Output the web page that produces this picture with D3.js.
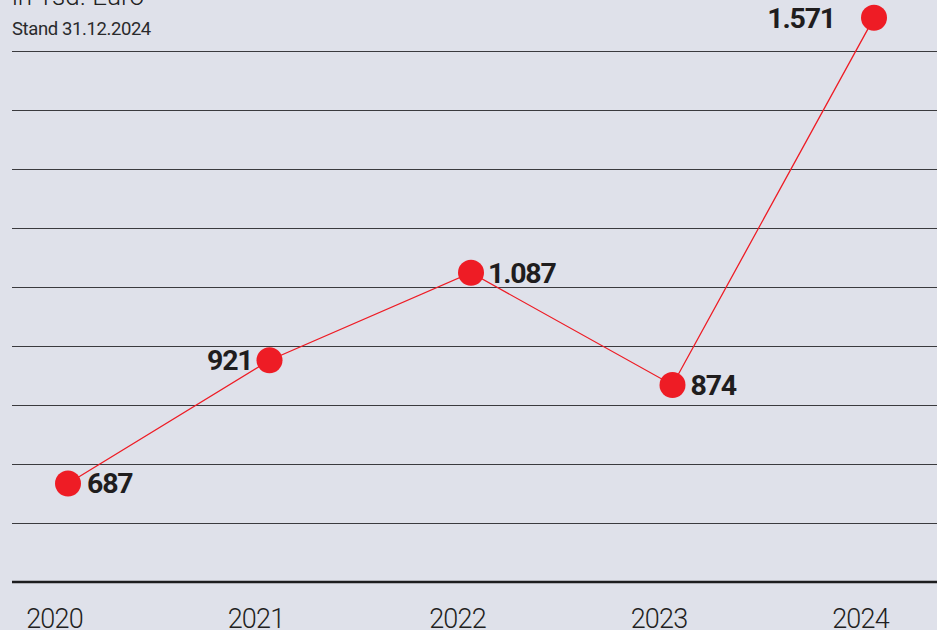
<!DOCTYPE html>
<html><head><meta charset="utf-8">
<script src="https://cdn.jsdelivr.net/npm/d3@7"></script>
<style>
html,body{margin:0;padding:0;background:#dfe1ea;}
svg{display:block;}
text{font-family:Roboto,"Open Sans",sans-serif;}
</style></head>
<body>
<svg id="c" width="937" height="630"></svg>
<script>
const years = ["2020","2021","2022","2023","2024"];
const values = [687, 921, 1087, 874, 1571];
const valueLabels = ["687","921","1.087","874","1.571"];
const unitLabel = "in Tsd. Euro";
const dateLabel = "Stand 31.12.2024";
const gridCount = 9;

// label placement per point (layout only): horizontal offset from the point
const labelDx = [19, -17, 17, 18, -39];

const W = 937, H = 630;
const svg = d3.select("#c");
svg.append("rect").attr("width",W).attr("height",H).attr("fill","#dfe1ea");

const x = d3.scalePoint().domain(years).range([68, 874]);
const y = d3.scaleLinear().domain([500, 1508]).range([582, 51]);

// gridlines
const [d0,d1] = y.domain();
const step = (d1-d0)/gridCount;
const gridVals = d3.range(1, gridCount+1).map(i => d0 + i*step);
svg.append("g").selectAll("line").data(gridVals).join("line")
  .attr("x1",12).attr("x2",W)
  .attr("y1",d=>Math.round(y(d))+0.5).attr("y2",d=>Math.round(y(d))+0.5)
  .attr("stroke","#3a3a3e").attr("stroke-width",1.1);

// baseline
svg.append("line").attr("x1",12).attr("x2",W)
  .attr("y1",y(d0)).attr("y2",y(d0))
  .attr("stroke","#1d1d1f").attr("stroke-width",2.6);

// header
svg.append("text").attr("x",12).attr("y",5).text(unitLabel)
  .attr("font-size",26).attr("font-weight",300).attr("fill","#222");
svg.append("text").attr("x",12).attr("y",35).text(dateLabel)
  .attr("font-size",18.5).attr("fill","#2a2a2c").attr("letter-spacing",-0.4);

// x labels
const xAxis = d3.axisBottom(x).tickSize(0).tickPadding(0);
const gx = svg.append("g").attr("transform",`translate(-14,${y(d0)})`).call(xAxis);
gx.select(".domain").remove();
gx.selectAll("text").attr("font-size",27).attr("font-weight",300)
  .attr("fill","#1f1f22").attr("dy",null).attr("y",46)
  .attr("font-family","Roboto, sans-serif").attr("letter-spacing",-0.8);

const data = years.map((yr,i)=>({yr, v:values[i], lab:valueLabels[i], dx:labelDx[i]}));

// line
svg.append("path").datum(data)
  .attr("d", d3.line().x(d=>x(d.yr)).y(d=>y(d.v)))
  .attr("fill","none").attr("stroke","#ee1c25").attr("stroke-width",1.3);

// points
svg.append("g").selectAll("circle").data(data).join("circle")
  .attr("cx",d=>x(d.yr)).attr("cy",d=>y(d.v)).attr("r",13)
  .attr("fill","#ee1c25");

// value labels
svg.append("g").selectAll("text").data(data).join("text")
  .attr("x",d=>x(d.yr) + d.dx)
  .attr("y",d=>y(d.v)+10)
  .attr("text-anchor",d=>d.dx>0?"start":"end")
  .attr("font-size",28.5).attr("font-weight",700).attr("fill","#1f1d1e")
  .attr("letter-spacing",-1.2)
  .text(d=>d.lab);
</script>
</body></html>
